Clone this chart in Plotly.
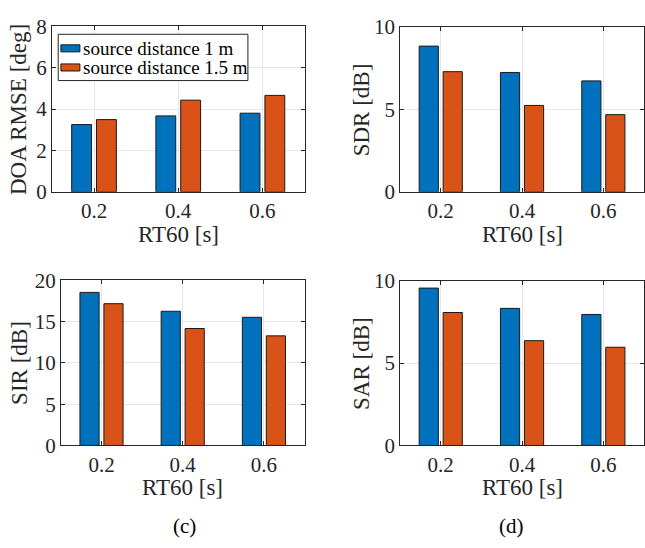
import plotly.graph_objects as go

rt60 = [0.2, 0.4, 0.6]
tick_labels = ["0.2", "0.4", "0.6"]
series_names = ["source distance 1 m", "source distance 1.5 m"]

doa_1m = [3.25, 3.67, 3.80]
doa_15m = [3.49, 4.43, 4.66]
sdr_1m = [8.84, 7.24, 6.73]
sdr_15m = [7.29, 5.24, 4.68]
sir_1m = [18.55, 16.26, 15.53]
sir_15m = [17.18, 14.17, 13.28]
sar_1m = [9.55, 8.32, 7.95]
sar_15m = [8.07, 6.36, 5.96]

colors = ["#0072BD", "#D95319"]
W, H = 645, 548
FONT = "Liberation Serif"
TXT = "#262626"

panels = [
    (doa_1m, doa_15m, "DOA RMSE [deg]", [0, 8], [0, 2, 4, 6, 8], (52, 305), (15, 188), 18, 233),
    (sdr_1m, sdr_15m, "SDR [dB]", [0, 10], [0, 5, 10], (400.7, 645), (15.7, 188), 361.5, 233),
    (sir_1m, sir_15m, "SIR [dB]", [0, 20], [0, 5, 10, 15, 20], (61, 305), (280.7, 453.3), 20, 497),
    (sar_1m, sar_15m, "SAR [dB]", [0, 10], [0, 5, 10], (400.7, 645), (281, 453.3), 361.5, 497),
]

fig = go.Figure()
annotations = []
shapes = []
for i, (d1, d2, ylab, yr, yt, xd, yd, ytx, xty) in enumerate(panels):
    n = "" if i == 0 else str(i + 1)
    xa, ya = "x" + n, "y" + n
    for j, d in enumerate([d1, d2]):
        fig.add_trace(go.Bar(
            x=rt60, y=d, name=series_names[j], xaxis=xa, yaxis=ya,
            marker=dict(color=colors[j], line=dict(color="#1a1a1a", width=1)),
            showlegend=False,
        ))
    axcommon = dict(
        showline=True, linecolor=TXT, linewidth=1, mirror="ticks",
        ticks="inside", ticklen=4, tickcolor=TXT,
        showgrid=True, gridcolor="#e6e6e6", gridwidth=1, zeroline=False,
        tickfont=dict(family=FONT, size=21, color=TXT),
    )
    fig.layout["xaxis" + n] = dict(
        axcommon, domain=[xd[0] / W, xd[1] / W], range=[0.1, 0.7],
        tickvals=rt60, ticktext=tick_labels, anchor=ya,
    )
    fig.layout["yaxis" + n] = dict(
        axcommon, domain=[1 - yd[1] / H, 1 - yd[0] / H], range=yr,
        tickvals=yt, anchor=xa,
    )
    annotations.append(dict(
        text=ylab, xref="paper", yref="paper", x=ytx / W, y=1 - (yd[0] + yd[1]) / 2 / H,
        textangle=-90, showarrow=False, xanchor="center", yanchor="middle",
        font=dict(family=FONT, size=23, color=TXT),
    ))
    annotations.append(dict(
        text="RT60 [s]", xref="paper", yref="paper", x=(xd[0] + xd[1]) / 2 / W, y=1 - xty / H,
        showarrow=False, xanchor="center", yanchor="middle",
        font=dict(family=FONT, size=23, color=TXT),
    ))

for lab, cx in [("(c)", 185), ("(d)", 512)]:
    annotations.append(dict(
        text=lab, xref="paper", yref="paper", x=cx / W, y=1 - 538 / H,
        showarrow=False, xanchor="center", yanchor="middle",
        font=dict(family=FONT, size=21, color="#000000"),
    ))

# legend box (top-left of panel a)
shapes.append(dict(type="rect", xref="paper", yref="paper",
                   x0=58.3 / W, x1=248.3 / W, y0=1 - 71.7 / H, y1=1 - 23.3 / H,
                   line=dict(color=TXT, width=1), fillcolor="white", layer="above"))
for j, (py0, py1, ty) in enumerate([(34.3, 41.7, 38.2), (54.3, 61.7, 58.2)]):
    shapes.append(dict(type="rect", xref="paper", yref="paper",
                       x0=61 / W, x1=80 / W, y0=1 - py1 / H, y1=1 - py0 / H,
                       line=dict(color="#1a1a1a", width=1), fillcolor=colors[j], layer="above"))
    annotations.append(dict(
        text=series_names[j], xref="paper", yref="paper", x=81.5 / W, y=1 - ty / H,
        showarrow=False, xanchor="left", yanchor="middle",
        font=dict(family=FONT, size=19, color="#000000"),
    ))

fig.update_layout(
    width=W, height=H, margin=dict(l=0, r=0, t=0, b=0),
    paper_bgcolor="white", plot_bgcolor="white",
    barmode="group", bargap=0.41, bargroupgap=0.2,
    annotations=annotations, shapes=shapes, showlegend=False,
    font=dict(family=FONT, color=TXT),
)

fig.write_html("out.html")
